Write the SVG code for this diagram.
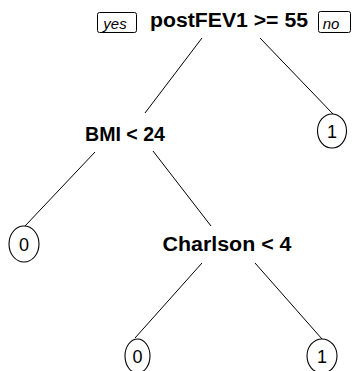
<svg xmlns="http://www.w3.org/2000/svg" width="352" height="371" viewBox="0 0 352 371">
<style>
.split{font-family:"Liberation Sans",Arial,sans-serif;font-weight:bold;font-size:20px;fill:#000;text-anchor:middle}
.leaf{font-family:"Liberation Sans",Arial,sans-serif;font-size:18px;fill:#000;text-anchor:middle}
.lbl{font-family:"Liberation Sans",Arial,sans-serif;font-style:italic;font-size:15px;fill:#000;text-anchor:middle}
.box{fill:#fff;stroke:#000;stroke-width:1}
.circ{fill:#fff;stroke:#000;stroke-width:1.1}
.edge{stroke:#000;stroke-width:1;fill:none}
</style>
<rect width="352" height="371" fill="#fff"/>
<g id="connectors">
<line class="edge" x1="202" y1="38" x2="145" y2="113"/>
<line class="edge" x1="260" y1="38" x2="333" y2="114"/>
<line class="edge" x1="95" y1="152" x2="25" y2="226"/>
<line class="edge" x1="153" y1="151" x2="211" y2="226"/>
<line class="edge" x1="202" y1="263" x2="135" y2="338"/>
<line class="edge" x1="255" y1="263" x2="322" y2="339"/>
</g>
<g id="root">
<text class="split" x="229" y="27" textLength="158" lengthAdjust="spacingAndGlyphs">postFEV1 &gt;= 55</text>
</g>
<g id="yes-label">
<rect class="box" x="97.5" y="12.5" width="39" height="20" rx="2"/>
<text class="lbl" x="115" y="29">yes</text>
</g>
<g id="no-label">
<rect class="box" x="318.5" y="11.5" width="32" height="21" rx="2"/>
<text class="lbl" x="331" y="29">no</text>
</g>
<g id="bmi">
<text class="split" x="125" y="141" textLength="80" lengthAdjust="spacingAndGlyphs">BMI &lt; 24</text>
</g>
<g id="leaf-right-top">
<ellipse class="circ" cx="332" cy="131" rx="14.5" ry="17"/>
<text class="leaf" x="332" y="137.5">1</text>
</g>
<g id="leaf-left">
<ellipse class="circ" cx="24" cy="244" rx="15" ry="18"/>
<text class="leaf" x="24" y="250.5">0</text>
</g>
<g id="charlson">
<text class="split" x="227" y="251" textLength="129" lengthAdjust="spacingAndGlyphs">Charlson &lt; 4</text>
</g>
<g id="leaf-bottom-left">
<ellipse class="circ" cx="137.5" cy="356" rx="12.5" ry="17"/>
<text class="leaf" x="137.5" y="362.5">0</text>
</g>
<g id="leaf-bottom-right">
<ellipse class="circ" cx="322" cy="356" rx="15" ry="17"/>
<text class="leaf" x="322" y="362.5">1</text>
</g>
</svg>
